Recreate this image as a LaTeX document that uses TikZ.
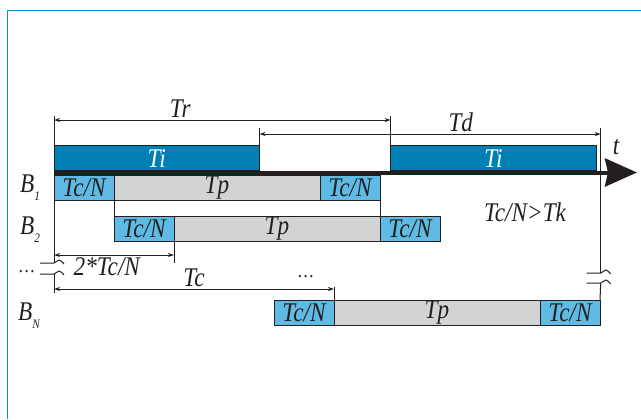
\documentclass[tikz,border=0pt]{standalone}
\usepackage{fontspec}
\setmainfont{Liberation Serif}
\newfontfamily\lblfont{Liberation Serif}[FakeStretch=0.86]
\usepackage{tikz}
\usetikzlibrary{positioning,arrows.meta}
\usepackage{xcolor}

\definecolor{inkgray}{RGB}{35,31,32}
\definecolor{frameblue}{RGB}{0,148,208}
\definecolor{tiblue}{RGB}{0,128,180}
\definecolor{tcblue}{RGB}{95,187,228}
\definecolor{tpgray}{RGB}{210,211,213}

\begin{document}
\begin{tikzpicture}[
  x=0.5pt, y=-0.5pt,
  seg/.style={draw=inkgray, line width=0.5pt, inner sep=0pt, outer sep=0pt, minimum height=12.5pt, text=inkgray, font=\lblfont\itshape\fontsize{13.5}{14}\selectfont},
  tcn/.style={seg, fill=tcblue, minimum width=30pt},
  tpbar/.style={seg, fill=tpgray, minimum width=103pt},
  tibar/.style={seg, fill=tiblue, text=white, minimum width=102.75pt},
  lbl/.style={inner sep=1pt, text=inkgray, font=\lblfont\itshape\fontsize{13.5}{14}\selectfont},
  guide/.style={draw=inkgray, line width=0.5pt},
  dim/.style={guide, {Stealth[length=3pt,width=2pt]}-{Stealth[length=3pt,width=2pt]}},
  gapmark/.pic={\draw[guide] (-14,0) -- (0,0) .. controls (2,0) and (3,-3) .. (5,-3) .. controls (7,-3) and (8,-1) .. (10,1);},
]
\useasboundingbox (0,0) rectangle (641,419);

% frame
\draw[frameblue, line width=0.8pt] (7.5,419) -- (7.5,10.5) -- (641,10.5);

% Ti intervals above the time axis
\node[tibar, anchor=west] (ti1) at (54,158.2) {Ti};
\node[tibar, anchor=west] (ti2) at (390.7,158.2) {Ti};

% time axis
\coordinate (o) at (54,172.5);
\coordinate (tend) at (637,172.5);
\draw[draw=inkgray, line width=2pt, -{Stealth[length=16pt,width=14pt,inset=1.5pt]}] (o) -- (tend);
\node[lbl] (tlab) at (616,147) {t};

% B1
\node[tcn, anchor=west] (b1a) at (54,188) {Tc/N};
\node[tpbar, right=0pt of b1a] (b1p) {Tp};
\node[tcn, right=0pt of b1p] (b1b) {Tc/N};

% B2
\node[tcn, below right=7.75pt and 0pt of b1a.south east] (b2a) {Tc/N};
\node[tpbar, right=0pt of b2a] (b2p) {Tp};
\node[tcn, right=0pt of b2p] (b2b) {Tc/N};

% BN
\node[tcn, anchor=west] (bna) at (274,312.5) {Tc/N};
\node[tpbar, right=0pt of bna] (bnp) {Tp};
\node[tcn, right=0pt of bnp] (bnb) {Tc/N};

% row labels
\node[lbl] (lb1) at (30,188) {B\raisebox{-4pt}{\fontsize{6.5}{6.5}\selectfont 1}};
\node[lbl] (lb2) at (30,230) {B\raisebox{-4pt}{\fontsize{6.5}{6.5}\selectfont 2}};
\node[lbl] (lbn) at (29,316) {B\raisebox{-4pt}{\fontsize{6.5}{6.5}\selectfont N}};
\node[lbl, anchor=base] (dots1) at (27,272) {\fontsize{10}{10}\selectfont\ldots};
\node[lbl, anchor=base] (dots2) at (306,277) {\fontsize{10}{10}\selectfont\ldots};
\node[lbl] (cond) at (525,212) {Tc/N>Tk};

% guide lines
\coordinate (lt) at (54,116);
\coordinate (lg1) at (54,263);
\coordinate (lg2) at (54,274);
\coordinate (lbot) at (54,293);
\coordinate (rt) at (600.7,128);
\coordinate (rg1) at (600.7,273);
\coordinate (rg2) at (600.7,283);
\draw[guide] (lt) -- (lg1);
\draw[guide] (lg2) -- (lbot);
\draw[guide] (rt) -- (rg1);
\draw[guide] (rg2) -- (bnb.north east);
\draw[guide] (ti2.north west) -- (ti2.north west |- lt);
\draw[guide] (ti1.north east) -- (ti1.north east |- rt);
\draw[guide] (b1a.south east) -- (b2a.north west);
\draw[guide] (b1b.south east) -- (b2b.north west);
\draw[guide] (b2a.south east) -- (b2a.south east |- lg1);
\draw[guide] (bna.north east) -- ++(0,-13);
\pic at (lg1) {gapmark};
\pic at (lg2) {gapmark};
\pic at (rg1) {gapmark};
\pic at (rg2) {gapmark};

% dimensions
\coordinate (tr) at (54,120);
\coordinate (td) at (600.7,134);
\coordinate (twotc) at (54,255);
\coordinate (tc) at (54,289);
\draw[dim] (tr) -- (tr -| ti2.west) node[lbl, pos=0.375, above] {Tr};
\draw[dim] (td -| ti1.east) -- (td) node[lbl, pos=0.59, above] {Td};
\draw[dim] (twotc) -- (twotc -| b2a.east) node[lbl, pos=0.44, below] {2*Tc/N};
\draw[dim] (tc) -- (tc -| bna.east) node[lbl, midway, above] {Tc};

\end{tikzpicture}
\end{document}
